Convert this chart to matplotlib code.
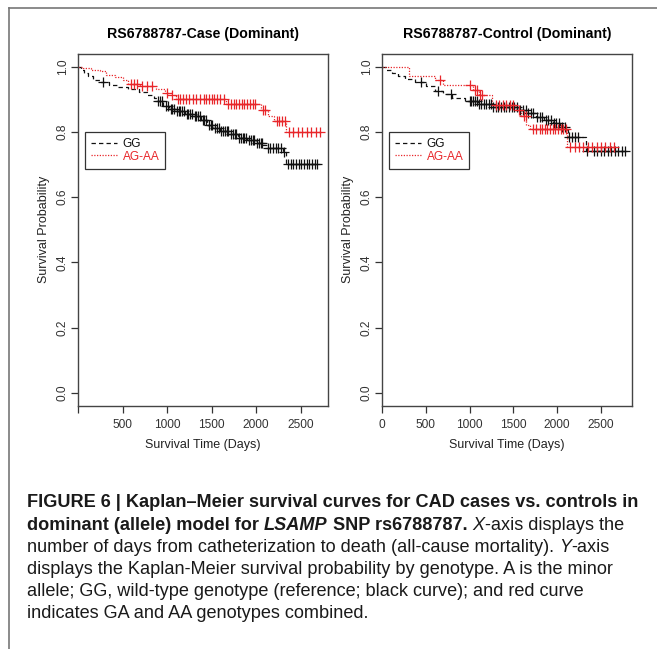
import numpy as np
import matplotlib
matplotlib.use("Agg")
from matplotlib import pyplot as plt
from matplotlib.lines import Line2D

plt.rcParams['font.family'] = ['Liberation Sans', 'DejaVu Sans']

# ---- data ----
# case panel, GG (black): step times / survival after step
case_gg_t = [0, 30, 70, 110, 170, 250, 350, 450, 560, 680, 780, 850, 900, 960, 1020,
             1100, 1200, 1300, 1380, 1450, 1520, 1600, 1700, 1800, 1900, 2000, 2080,
             2120, 2300, 2340, 2700]
case_gg_s = [1.0, 0.99, 0.98, 0.97, 0.96, 0.952, 0.945, 0.937, 0.930, 0.922, 0.913, 0.903,
             0.893, 0.880, 0.870, 0.864, 0.856, 0.847, 0.835, 0.822, 0.812, 0.802, 0.792,
             0.782, 0.775, 0.767, 0.760, 0.750, 0.738, 0.700, 0.700]
case_gg_cens = [280, 900, 920, 945, 990, 1010, 1040, 1060, 1080, 1110, 1130, 1150, 1170,
                1190, 1220, 1240, 1260, 1280, 1310, 1330, 1350, 1370, 1400, 1420, 1440,
                1470, 1490, 1510, 1540, 1560, 1580, 1610, 1630, 1650, 1670, 1690, 1720,
                1740, 1760, 1780, 1810, 1830, 1850, 1870, 1890, 1920, 1940, 1960, 1980,
                2010, 2030, 2050, 2070, 2130, 2160, 2190, 2220, 2250, 2280, 2310,
                2360, 2390, 2420, 2450, 2480, 2510, 2540, 2570, 2600, 2630, 2660, 2690]

# case panel, AG-AA (red)
case_ag_t = [0, 60, 150, 250, 320, 420, 500, 560, 700, 880, 980, 1040, 1100, 1660, 2060,
             2130, 2200, 2340, 2720]
case_ag_s = [1.0, 0.995, 0.99, 0.985, 0.975, 0.968, 0.96, 0.948, 0.94, 0.93, 0.92, 0.912,
             0.900, 0.885, 0.868, 0.850, 0.832, 0.800, 0.800]
case_ag_cens = [590, 630, 660, 720, 770, 830, 1000, 1060, 1120, 1150, 1180, 1210, 1250,
                1290, 1330, 1370, 1410, 1440, 1470, 1500, 1530, 1560, 1600, 1640, 1690,
                1720, 1750, 1780, 1810, 1840, 1870, 1900, 1930, 1960, 1990, 2080, 2100,
                2230, 2260, 2290, 2320, 2370, 2420, 2470, 2520, 2570, 2620, 2670, 2720]

# control panel, GG (black)
ctrl_gg_t = [0, 50, 110, 180, 260, 380, 500, 600, 700, 800, 950, 1100, 1250, 1550, 1650,
             1760, 1850, 1950, 2030, 2120, 2330, 2780]
ctrl_gg_s = [1.0, 0.99, 0.98, 0.972, 0.962, 0.953, 0.94, 0.926, 0.915, 0.905, 0.893, 0.885,
             0.875, 0.866, 0.857, 0.846, 0.836, 0.826, 0.816, 0.785, 0.742, 0.742]
ctrl_gg_cens = [440, 640, 790, 1000, 1020, 1040, 1060, 1080, 1110, 1130, 1160, 1190, 1220,
                1240, 1270, 1300, 1330, 1360, 1390, 1420, 1450, 1480, 1510, 1540, 1580,
                1610, 1640, 1670, 1700, 1730, 1770, 1800, 1830, 1870, 1900, 1930, 1960,
                1990, 2020, 2060, 2090, 2140, 2170, 2200, 2240, 2340, 2420, 2460, 2500,
                2540, 2580, 2620, 2660, 2700, 2740, 2780]

# control panel, AG-AA (red)
ctrl_ag_t = [0, 310, 600, 700, 1040, 1110, 1260, 1530, 1590, 1650, 1690, 2110, 2660]
ctrl_ag_s = [1.0, 0.972, 0.960, 0.945, 0.928, 0.912, 0.883, 0.868, 0.848, 0.820, 0.808,
             0.755, 0.755]
ctrl_ag_cens = [660, 1000, 1060, 1090, 1120, 1140, 1300, 1340, 1380, 1420, 1460, 1500,
                1560, 1620, 1640, 1720, 1760, 1800, 1830, 1860, 1890, 1920, 1950, 1980,
                2010, 2040, 2070, 2100, 2150, 2200, 2250, 2300, 2350, 2400, 2450, 2500,
                2550, 2600, 2650]

titles = ['RS6788787-Case (Dominant)', 'RS6788787-Control (Dominant)']
labels = ['GG', 'AG-AA']
xticks = [0, 500, 1000, 1500, 2000, 2500]
yticks = [0.0, 0.2, 0.4, 0.6, 0.8, 1.0]

black = '#111111'
red = '#e8262a'


def surv_at(t, times, surv):
    idx = np.searchsorted(times, t, side='right') - 1
    return np.array(surv)[idx]


fig = plt.figure(figsize=(6.57, 6.49), dpi=100)
W, H = 657, 649


def axes_px(x0, y0, x1, y1):
    return fig.add_axes([x0 / W, 1 - y1 / H, (x1 - x0) / W, (y1 - y0) / H])


panels = [
    (axes_px(78, 53.5, 328, 406), 2808, case_gg_t, case_gg_s, case_gg_cens,
     case_ag_t, case_ag_s, case_ag_cens, False),
    (axes_px(382, 53.5, 632, 406), 2855, ctrl_gg_t, ctrl_gg_s, ctrl_gg_cens,
     ctrl_ag_t, ctrl_ag_s, ctrl_ag_cens, True),
]

for i, (ax, xmax, gt, gs, gc, at, as_, ac, show0) in enumerate(panels):
    ax.step(gt, gs, where='post', color=black, lw=0.9, ls=(0, (3.5, 2.5)), label=labels[0])
    ax.step(at, as_, where='post', color=red, lw=0.9, ls=(0, (1, 1.2)), label=labels[1])
    ax.plot(gc, surv_at(gc, gt, gs), ls='none', marker='+', ms=7, mew=0.9, color=black)
    ax.plot(ac, surv_at(ac, at, as_), ls='none', marker='+', ms=7, mew=0.9, color=red)

    ax.set_xlim(0, xmax)
    ax.set_ylim(-0.04, 1.04)
    ax.set_xticks(xticks)
    if show0:
        ax.set_xticklabels([str(v) for v in xticks])
    else:
        ax.set_xticklabels([''] + [str(v) for v in xticks[1:]])
    ax.set_yticks(yticks)
    ax.set_yticklabels(['%.1f' % v for v in yticks], rotation=90, va='center')
    ax.tick_params(direction='out', length=5, width=0.9, colors='#333333',
                   labelsize=8.6, pad=4)
    ax.tick_params(axis='y', pad=1.5)
    for sp in ax.spines.values():
        sp.set_color('#444444')
        sp.set_linewidth(1.0)
    ax.set_title(titles[i], fontsize=10.2, fontweight='bold', pad=11)
    ax.set_xlabel('Survival Time (Days)', fontsize=9, labelpad=6, color='#222222')
    ax.set_ylabel('Survival Probability', fontsize=9, labelpad=5, color='#222222')

    leg = ax.legend(loc='upper left', bbox_to_anchor=(0.028, 0.776), borderaxespad=0,
                    fancybox=False, edgecolor='#333333', framealpha=1, fontsize=8.6,
                    handlelength=2.2, handletextpad=0.45, labelspacing=0.02,
                    borderpad=0.5, labelcolor='linecolor')
    leg.get_frame().set_linewidth(0.9)

# outer frame lines of the figure panel
fig.add_artist(Line2D([9 / W, 9 / W], [0, 1 - 8 / H], color='#777777', lw=1.2))
fig.add_artist(Line2D([9 / W, 1], [1 - 8 / H, 1 - 8 / H], color='#777777', lw=1.2))

# ---- caption ----
cap_size = 13.1
cap_lines = [
    [('FIGURE 6 | Kaplan\u2013Meier survival curves for CAD cases vs. controls in', 'bold', 'normal')],
    [('dominant (allele) model for', 'bold', 'normal'), ('LSAMP', 'bold', 'italic'),
     ('SNP rs6788787.', 'bold', 'normal'), ('X', 'normal', 'italic'),
     ('-axis displays the', 'normal', 'normal')],
    [('number of days from catheterization to death (all-cause mortality).', 'normal', 'normal'),
     ('Y', 'normal', 'italic'), ('-axis', 'normal', 'normal')],
    [('displays the Kaplan-Meier survival probability by genotype. A is the minor', 'normal', 'normal')],
    [('allele; GG, wild-type genotype (reference; black curve); and red curve', 'normal', 'normal')],
    [('indicates GA and AA genotypes combined.', 'normal', 'normal')],
]
baselines = [507, 529.5, 552, 574, 596, 618]
space_px = 0.278 * cap_size * 100 / 72

renderer = fig.canvas.get_renderer()
for bl, pieces in zip(baselines, cap_lines):
    x = 27.0
    prev = None
    for txt, wt, st in pieces:
        if prev is not None:
            # italic capital letters hug the following hyphen, others get a space
            if not (prev[2] == 'italic' and txt.startswith('-')):
                x += space_px
        t = fig.text(x / W, 1 - bl / H, txt, fontsize=cap_size, fontweight=wt,
                     fontstyle=st, va='baseline', ha='left', color='#1a1a1a')
        bb = t.get_window_extent(renderer=renderer)
        x = bb.x1
        prev = (txt, wt, st)

fig.savefig('out.png', dpi=100)
